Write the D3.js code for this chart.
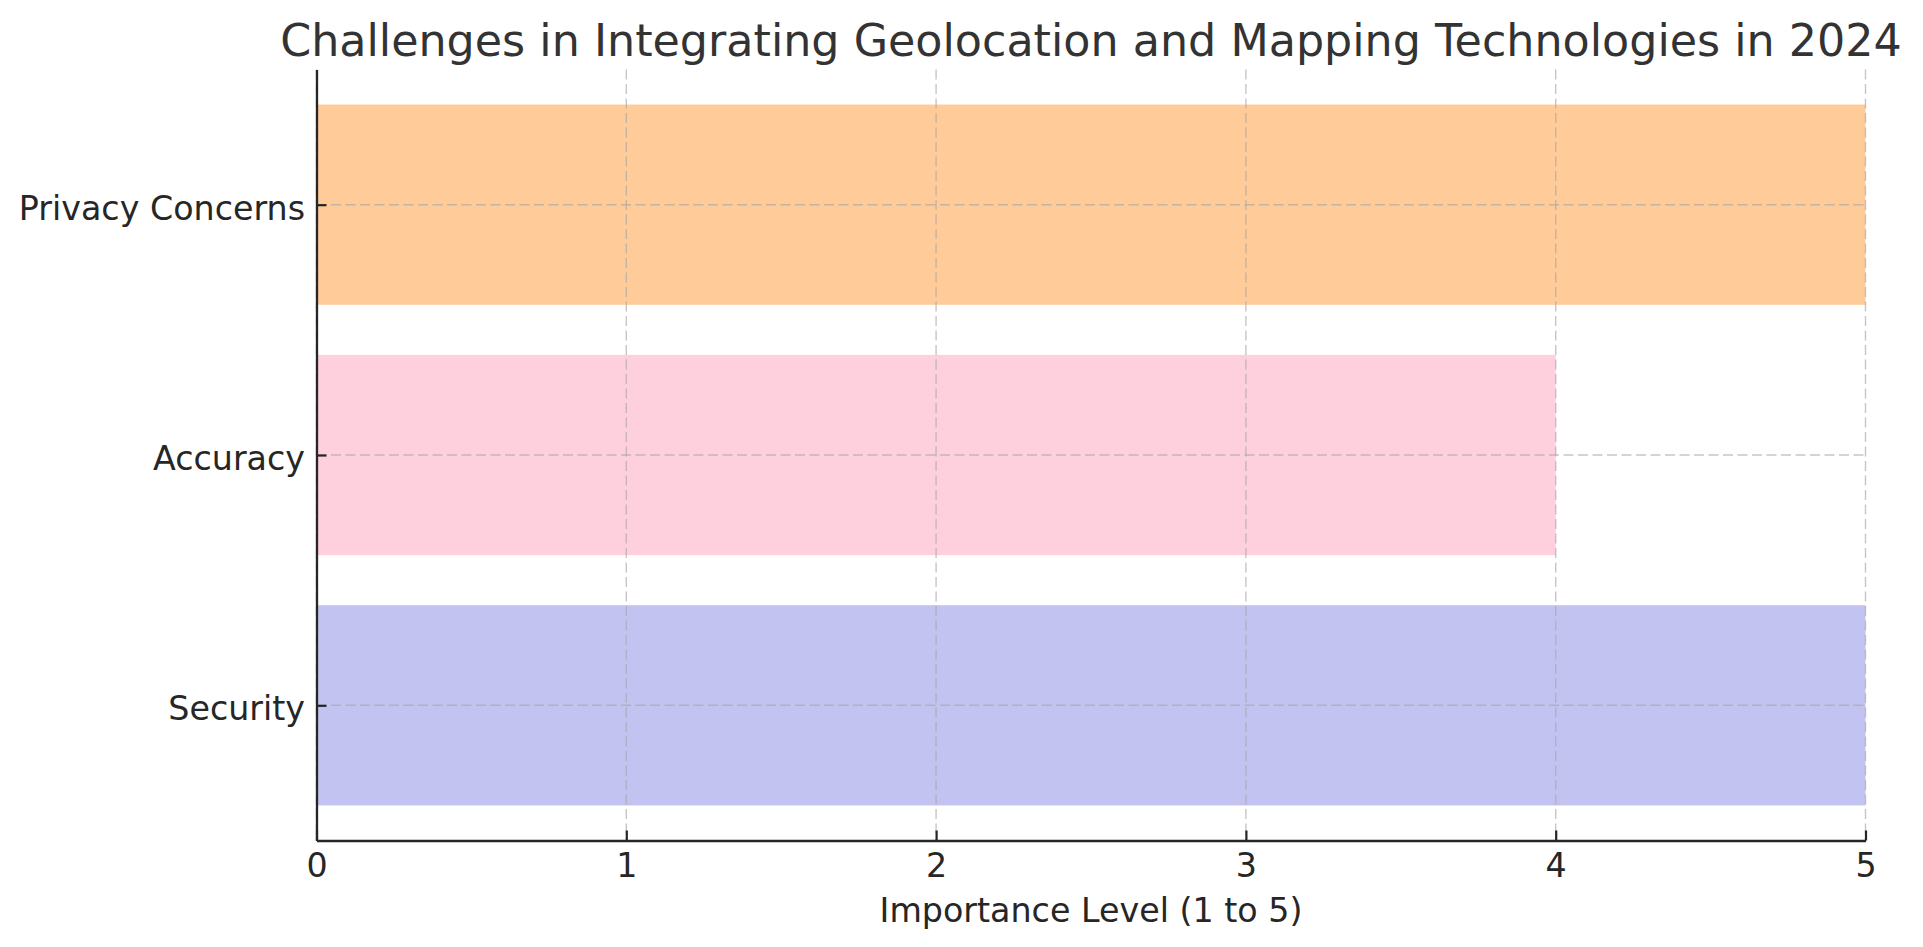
<!DOCTYPE html>
<html>
<head>
<meta charset="utf-8">
<script src="https://cdn.jsdelivr.net/npm/d3@7"></script>
<style>
  html, body { margin: 0; padding: 0; background: #ffffff; }
  svg { display: block; }
  text { font-family: "DejaVu Sans", sans-serif; }
</style>
</head>
<body>
<script>
// ---- data ----
const categories = ["Security", "Accuracy", "Privacy Concerns"];
const values = [5, 4, 5];
const barColors = ["#c2c3f0", "#fecfdc", "#fecb99"];
const xTicks = [0, 1, 2, 3, 4, 5];
const titleText = "Challenges in Integrating Geolocation and Mapping Technologies in 2024";
const xLabelText = "Importance Level (1 to 5)";

// ---- layout ----
const W = 1923, H = 947;
const mLeft = 316.5, mRight = 1865.5, mTop = 69.5, mBottom = 840.5;

const svg = d3.select("body").append("svg").attr("width", W).attr("height", H);

const x = d3.scaleLinear().domain([0, 5]).range([mLeft, mRight]);
const y = d3.scaleLinear().domain([-0.54, 2.54]).range([mBottom, mTop]);
const barH = y(0) - y(0.8);

// bars
svg.append("g").selectAll("rect")
  .data(categories)
  .enter().append("rect")
  .attr("x", x(0))
  .attr("y", (d, i) => y(i + 0.4))
  .attr("width", (d, i) => x(values[i]) - x(0))
  .attr("height", barH)
  .attr("fill", (d, i) => barColors[i]);

// grid
const grid = svg.append("g").attr("stroke", "#a8a8a8").attr("stroke-opacity", 0.65)
  .attr("stroke-width", 1.4).attr("stroke-dasharray", "10,4.5");
grid.selectAll("line.vx").data(xTicks).enter().append("line")
  .attr("x1", d => x(d)).attr("x2", d => x(d))
  .attr("y1", mTop).attr("y2", mBottom);
grid.selectAll("line.hy").data(categories).enter().append("line")
  .attr("x1", mLeft).attr("x2", mRight)
  .attr("y1", (d, i) => y(i)).attr("y2", (d, i) => y(i));

// x axis
const xAxis = d3.axisBottom(x).tickValues(xTicks).tickFormat(d3.format("d"))
  .tickSizeInner(-10).tickSizeOuter(0).tickPadding(12.5);
const gx = svg.append("g").attr("transform", `translate(0,${mBottom})`).call(xAxis);
gx.select(".domain").attr("stroke", "#262626").attr("stroke-width", 2.3);
gx.selectAll(".tick line").attr("stroke", "#262626").attr("stroke-width", 2.2);
gx.selectAll(".tick text").attr("fill", "#262626").attr("font-size", 33.3)
  .attr("font-family", "DejaVu Sans, sans-serif");

// y axis
const yAxis = d3.axisLeft(y).tickValues([0, 1, 2]).tickFormat(i => categories[i])
  .tickSizeInner(-10).tickSizeOuter(0).tickPadding(11.5);
const gy = svg.append("g").attr("transform", `translate(${mLeft},0)`).call(yAxis);
gy.select(".domain").attr("stroke", "#262626").attr("stroke-width", 2.3);
gy.selectAll(".tick line").attr("stroke", "#262626").attr("stroke-width", 2.2);
gy.selectAll(".tick text").attr("fill", "#262626").attr("font-size", 33.3)
  .attr("font-family", "DejaVu Sans, sans-serif").attr("dy", "0.44em");

// title
svg.append("text")
  .attr("x", (mLeft + mRight) / 2).attr("y", 56)
  .attr("text-anchor", "middle").attr("font-size", 44.4).attr("fill", "#333333")
  .text(titleText);

// x label
svg.append("text")
  .attr("x", (mLeft + mRight) / 2).attr("y", 921.5)
  .attr("text-anchor", "middle").attr("font-size", 33.3).attr("fill", "#262626")
  .text(xLabelText);
</script>
</body>
</html>
